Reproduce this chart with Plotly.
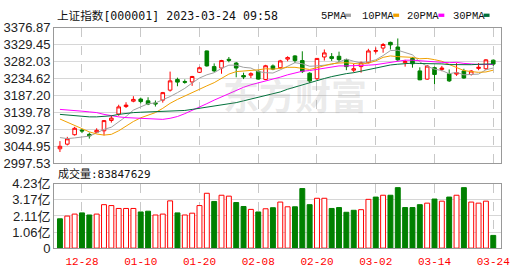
import plotly.graph_objects as go

# ---------------- data ----------------
dates = ["12-23", "12-26", "12-27", "12-28", "12-29", "12-30", "01-03", "01-04", "01-05", "01-06",
         "01-09", "01-10", "01-11", "01-12", "01-13", "01-16", "01-17", "01-18", "01-19", "01-20",
         "01-30", "01-31", "02-01", "02-02", "02-03", "02-06", "02-07", "02-08", "02-09", "02-10",
         "02-13", "02-14", "02-15", "02-16", "02-17", "02-20", "02-21", "02-22", "02-23", "02-24",
         "02-27", "02-28", "03-01", "03-02", "03-03", "03-06", "03-07", "03-08", "03-09", "03-10",
         "03-13", "03-14", "03-15", "03-16", "03-17", "03-20", "03-21", "03-22", "03-23", "03-24"]

open_ = [3037.5, 3050.5, 3077, 3090, 3078, 3084, 3088, 3117, 3135, 3156,
         3171, 3177, 3172, 3166, 3174, 3202, 3232, 3226, 3225, 3252,
         3312, 3268, 3264, 3288.5, 3278, 3243, 3244, 3255, 3232, 3270,
         3265, 3289, 3298, 3285, 3249.5, 3234, 3295, 3296, 3297, 3288,
         3258, 3268, 3279, 3311, 3320, 3336, 3323, 3279, 3291, 3256,
         3233, 3265, 3260, 3248, 3247, 3256, 3246, 3263, 3262, 3286]
high = [3059, 3071, 3099, 3093, 3083, 3095, 3118, 3130, 3161, 3168,
        3185, 3181, 3182, 3173, 3197, 3254, 3237, 3232, 3242, 3268,
        3313, 3277, 3287, 3295, 3281, 3251, 3252, 3257, 3273, 3274,
        3287, 3297, 3300, 3311, 3252, 3292, 3316, 3306, 3310, 3290,
        3276, 3282, 3318, 3322, 3334, 3338, 3347, 3287, 3295, 3266,
        3272, 3268, 3270, 3260, 3278, 3262, 3258, 3278, 3289, 3288]
low = [3028.5, 3047, 3074.5, 3081.5, 3066, 3081.5, 3075, 3111, 3130, 3152,
       3168, 3165, 3160, 3156, 3167, 3198, 3213, 3220, 3214, 3250,
       3268, 3253, 3248, 3280, 3238, 3233, 3236, 3231, 3230, 3258,
       3262, 3283, 3278, 3250, 3222, 3230, 3285, 3284, 3280, 3258,
       3252, 3251, 3277, 3305, 3307, 3316, 3284, 3268, 3265, 3230,
       3231, 3219, 3255, 3225, 3242, 3234, 3243, 3258, 3259, 3270]
close = [3044.5, 3065.5, 3095, 3087.5, 3073.7, 3089.3, 3116.5, 3123.5, 3155, 3160,
         3176, 3170, 3163, 3163.5, 3195, 3228, 3224.5, 3224.2, 3240.3, 3264.8,
         3270, 3256, 3285, 3285.7, 3264, 3239, 3248, 3233, 3270.4, 3261,
         3284, 3293.3, 3285, 3254, 3227.5, 3291, 3306.5, 3291, 3287.5, 3268,
         3262, 3279.6, 3312, 3313, 3330, 3329, 3287, 3282, 3276, 3231,
         3269.5, 3246, 3264, 3228, 3251, 3236, 3255.6, 3266, 3287, 3275]

ma5 = [3069, 3066, 3068, 3070, 3073, 3082, 3092, 3098, 3112, 3128,
       3146, 3156, 3164, 3166, 3174, 3184, 3195, 3207, 3222, 3236,
       3245, 3251, 3263, 3272, 3272, 3266, 3264, 3254, 3251, 3250,
       3259, 3268, 3279, 3276, 3269, 3270, 3273, 3274, 3281, 3289,
       3283, 3278, 3282, 3287, 3299, 3313, 3314, 3308, 3301, 3281,
       3269, 3261, 3257, 3248, 3252, 3245, 3247, 3247, 3259, 3264]
ma10 = [3121, 3112, 3102, 3093, 3085, 3079, 3076, 3078, 3088, 3101,
        3114, 3124.5, 3131, 3139, 3151, 3165, 3176, 3186, 3194, 3205,
        3214, 3223, 3235, 3247, 3254, 3255, 3258, 3259, 3262, 3261,
        3263, 3266, 3266, 3263, 3260, 3265, 3271, 3276, 3278, 3279,
        3277, 3275, 3278, 3284, 3294, 3298, 3296, 3295, 3294, 3290,
        3291, 3287.5, 3283, 3274, 3266, 3257, 3254, 3252, 3253, 3258]
ma20 = [3148, 3147, 3145, 3143, 3141, 3139, 3134, 3130, 3127, 3125,
        3124, 3122, 3121, 3120, 3120, 3123, 3128, 3136, 3145, 3153,
        3164, 3174, 3183, 3193, 3203, 3210, 3217, 3222, 3228, 3233,
        3238.5, 3245, 3251, 3255, 3257, 3260, 3264, 3267.5, 3270, 3270,
        3270, 3271, 3272, 3273.5, 3277, 3281, 3283, 3286, 3286, 3284,
        3284, 3281, 3280, 3279, 3280, 3277, 3275, 3274, 3274, 3274]
ma30 = [3134, 3132, 3130, 3128, 3127, 3127, 3128, 3130, 3134, 3137,
        3139, 3140, 3141, 3142, 3142, 3143, 3143, 3145, 3148, 3151,
        3154, 3156, 3159, 3163, 3167, 3172, 3177, 3183, 3188, 3191,
        3197, 3204.6, 3211, 3216.5, 3221.6, 3228, 3234.6, 3240, 3244.6, 3248.3,
        3251, 3255, 3260, 3265, 3269, 3272.6, 3274.7, 3276.6, 3277.8, 3276.7,
        3276.7, 3276.3, 3275.6, 3273.7, 3273.3, 3273.2, 3273.4, 3274.5, 3275, 3275.6]

# volume in 亿
volume = [1.93, 2.11, 2.24, 2.32, 2.18, 2.24, 2.86, 2.80, 2.61, 2.61,
          2.61, 2.38, 2.43, 2.18, 2.24, 3.11, 2.32, 2.18, 2.30, 2.80,
          3.61, 3.07, 3.48, 3.42, 3.00, 2.74, 2.55, 2.38, 2.59, 2.66,
          3.03, 2.72, 2.72, 3.92, 2.86, 3.28, 3.28, 2.61, 2.67, 2.36,
          2.49, 2.53, 3.21, 3.36, 3.48, 3.48, 3.98, 2.67, 2.67, 2.86,
          2.96, 3.23, 3.09, 3.36, 3.48, 3.98, 3.03, 2.96, 3.09, 0.838]
vol_up = [0, 1, 1, 0, 0, 1, 1, 1, 1, 1,
          1, 0, 0, 1, 1, 1, 0, 1, 1, 1,
          1, 0, 1, 1, 0, 0, 1, 0, 1, 0,
          1, 1, 0, 0, 0, 1, 1, 0, 0, 0,
          0, 1, 1, 0, 1, 0, 0, 0, 0, 0,
          1, 0, 1, 0, 1, 0, 1, 1, 1, 0]

price_ticks = [2997.53, 3044.95, 3092.37, 3139.78, 3187.20, 3234.62, 3282.03, 3329.45, 3376.87]
price_ticktext = ["2997.53", "3044.95", "3092.37", "3139.78", "3187.20", "3234.62", "3282.03", "3329.45", "3376.87"]
vol_ticks = [0, 1.0575, 2.115, 3.1725, 4.23]
vol_ticktext = ["0", "1.06亿", "2.11亿", "3.17亿", "4.23亿"]
date_ticks = ["12-28", "01-10", "01-20", "02-08", "02-20", "03-02", "03-14", "03-24"]

title_text = "上证指数[000001] 2023-03-24 09:58"
vol_label = "成交量:83847629"
ma_names = ["5PMA", "10PMA", "20PMA", "30PMA"]

# ---------------- style ----------------
RED = "#ff0000"
GREEN = "#008000"
MA_COLORS = ["#a0a0a0", "#f0a000", "#ff00ff", "#00703a"]
FRAME = "#999999"
GRID = "#d6d6d6"
VGRID = "#c8c8c8"
W, H = 530, 276

idx = list(range(len(dates)))
tickvals = [dates.index(d) for d in date_ticks]

fig = go.Figure()

for name, vals, col in zip(ma_names, [ma5, ma10, ma20, ma30], MA_COLORS):
    fig.add_trace(go.Scatter(x=idx, y=vals, mode="lines", name=name,
                             line=dict(color=col, width=1), xaxis="x", yaxis="y",
                             showlegend=False, hoverinfo="skip"))

fig.add_trace(go.Candlestick(
    x=idx, open=open_, high=high, low=low, close=close,
    increasing=dict(line=dict(color=RED, width=1), fillcolor="#ffffff"),
    decreasing=dict(line=dict(color=GREEN, width=1), fillcolor=GREEN),
    whiskerwidth=0, xaxis="x", yaxis="y", showlegend=False))

fig.add_trace(go.Bar(
    x=idx, y=volume, width=0.67,
    marker=dict(color=["#ffffff" if u else GREEN for u in vol_up],
                line=dict(color=[RED if u else GREEN for u in vol_up], width=1)),
    xaxis="x2", yaxis="y2", showlegend=False))

xdom = [55 / W, 510 / W]
xrange_ = [-0.8, 60.1]
axis_common = dict(showline=True, linecolor=FRAME, linewidth=1, mirror=True, zeroline=False)

fig.update_layout(
    width=W, height=H, margin=dict(l=0, r=0, t=0, b=0),
    paper_bgcolor="#ffffff", plot_bgcolor="#ffffff",
    bargap=0.3,
    xaxis=dict(domain=xdom, anchor="y", range=xrange_, tickvals=tickvals,
               showticklabels=False, showgrid=True, gridcolor=VGRID, griddash="dash",
               rangeslider=dict(visible=False), ticks="", **axis_common),
    yaxis=dict(domain=[1 - 165 / H, 1 - 22 / H], anchor="x", range=[price_ticks[0], price_ticks[-1]],
               tickvals=price_ticks, ticktext=price_ticktext, showgrid=True, gridcolor=GRID,
               tickfont=dict(family="Liberation Sans", size=13, color="#222222"),
               ticks="", **axis_common),
    xaxis2=dict(domain=xdom, anchor="y2", range=xrange_, tickvals=tickvals, ticktext=date_ticks,
                showgrid=True, gridcolor=VGRID, griddash="dash",
                tickfont=dict(family="Liberation Mono", size=11, color=RED),
                ticks="outside", ticklen=3, tickcolor="rgba(0,0,0,0)", **axis_common),
    yaxis2=dict(domain=[1 - 255 / H, 1 - 187 / H], anchor="x2", range=[0, 4.23],
                tickvals=vol_ticks, ticktext=vol_ticktext, showgrid=True, gridcolor=GRID,
                tickfont=dict(family="Liberation Sans, Noto Sans CJK SC", size=13, color="#222222"),
                ticks="", **axis_common),
)

annotations = [
    dict(text=title_text, x=56 / W, y=1 - 9 / H, xref="paper", yref="paper",
         xanchor="left", yanchor="middle", showarrow=False,
         font=dict(family="DejaVu Sans Mono, Noto Sans CJK SC", size=11.6, color="#111111")),
    dict(text=vol_label, x=57 / W, y=1 - 177 / H, xref="paper", yref="paper",
         xanchor="left", yanchor="middle", showarrow=False,
         font=dict(family="DejaVu Sans Mono, Noto Sans CJK SC", size=11, color="#111111")),
    dict(text="<b>东方财富</b>", x=300 / W, y=1 - 92 / H, xref="paper", yref="paper",
         xanchor="center", yanchor="middle", showarrow=False,
         font=dict(family="Noto Sans CJK SC", size=36, color="rgba(150,150,150,0.2)")),
]
legend_x = [325, 366, 412, 459]
swatch_x = [351, 400, 446, 492]
shapes = []
for name, col, lx, sx in zip(ma_names, MA_COLORS, legend_x, swatch_x):
    annotations.append(dict(text=name, x=lx / W, y=1 - 9 / H, xref="paper", yref="paper",
                            xanchor="left", yanchor="middle", showarrow=False,
                            font=dict(family="Liberation Mono", size=10.5, color="#111111")))
    shapes.append(dict(type="rect", xref="paper", yref="paper",
                       x0=sx / W, x1=(sx + 6) / W, y0=1 - 10.5 / H, y1=1 - 7 / H,
                       fillcolor=col, line=dict(width=0)))
fig.update_layout(annotations=annotations, shapes=shapes)

fig.write_html("out.html")
